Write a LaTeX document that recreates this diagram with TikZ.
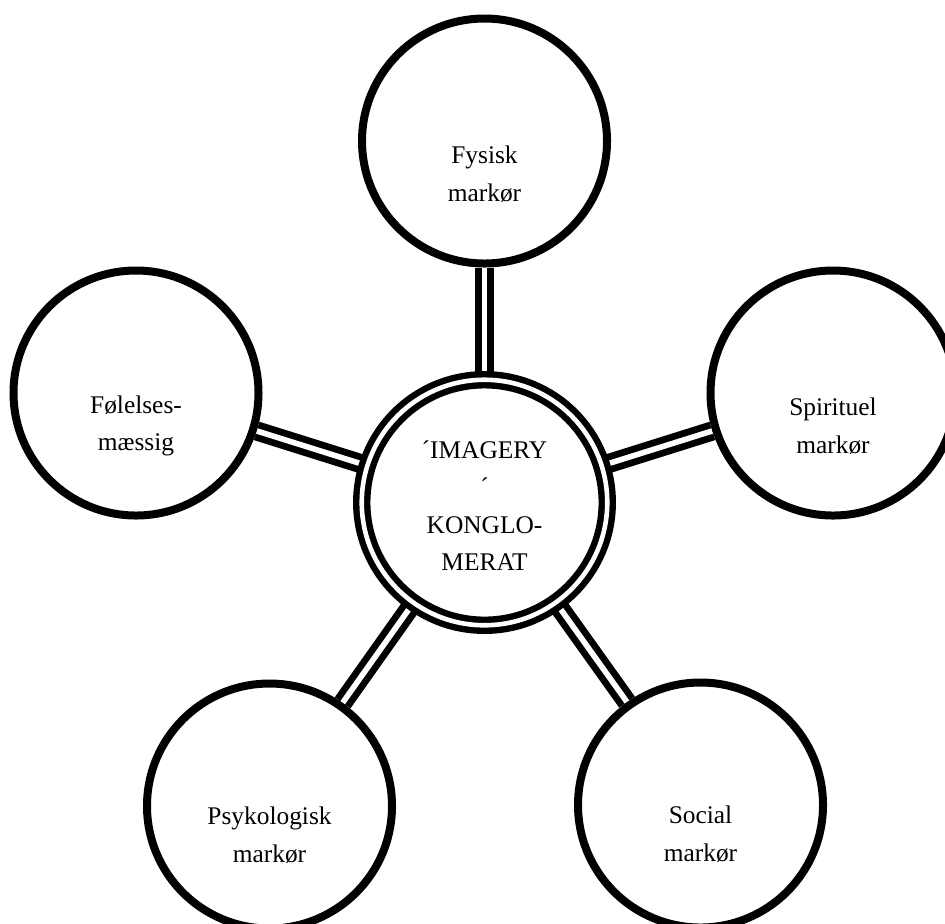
\documentclass[tikz,border=0pt]{standalone}
\usepackage{fontspec}
\setmainfont{Liberation Serif}
\usetikzlibrary{backgrounds}
\tikzset{
  marker/.style={circle,draw,line width=4pt,minimum size=122.5pt,fill=white},
  kernel/.style={circle,draw,line width=3.2pt,double,double distance=2.3pt,
    minimum size=122.75pt,fill=white},
  txt/.style={align=center,font=\fontsize{12.7}{18.75}\selectfont},
  link/.style={line width=3.4pt,double,double distance=2.8pt}
}
\begin{document}
\begin{tikzpicture}[x=0.5pt,y=-0.5pt]
    \useasboundingbox (0,0) rectangle (945,923);
    \clip (0,0) rectangle (945,923);
    \node[kernel,label={[txt,yshift=-1.5pt]center:´IMAGERY\\´\\KONGLO-\\MERAT}] (kern) at (484.5,502.5) {};
    \node[marker,label={[txt,yshift=-16.5pt]center:Fysisk\\markør}]      (fysisk)   at (484.5,141) {};
    \node[marker,label={[txt,yshift=-16.5pt]center:Følelses-\\mæssig}]   (folelse)  at (136,393)   {};
    \node[marker,label={[txt,yshift=-16.5pt]center:Spirituel\\markør}]   (spirit)   at (833,393)   {};
    \node[marker,label={[txt,yshift=-14.5pt]center:Psykologisk\\markør}] (psyk)     at (269.5,806) {};
    \node[marker,label={[txt,yshift=-14.5pt]center:Social\\markør}]      (social)   at (700.5,805) {};
    \begin{scope}[on background layer]
      \draw[link] (kern) -- (fysisk);
      \draw[link] (kern) -- (folelse);
      \draw[link] (kern) -- (spirit);
      \draw[link] (kern) -- (psyk);
      \draw[link] (kern) -- (social);
    \end{scope}
  \end{tikzpicture}
\end{document}
